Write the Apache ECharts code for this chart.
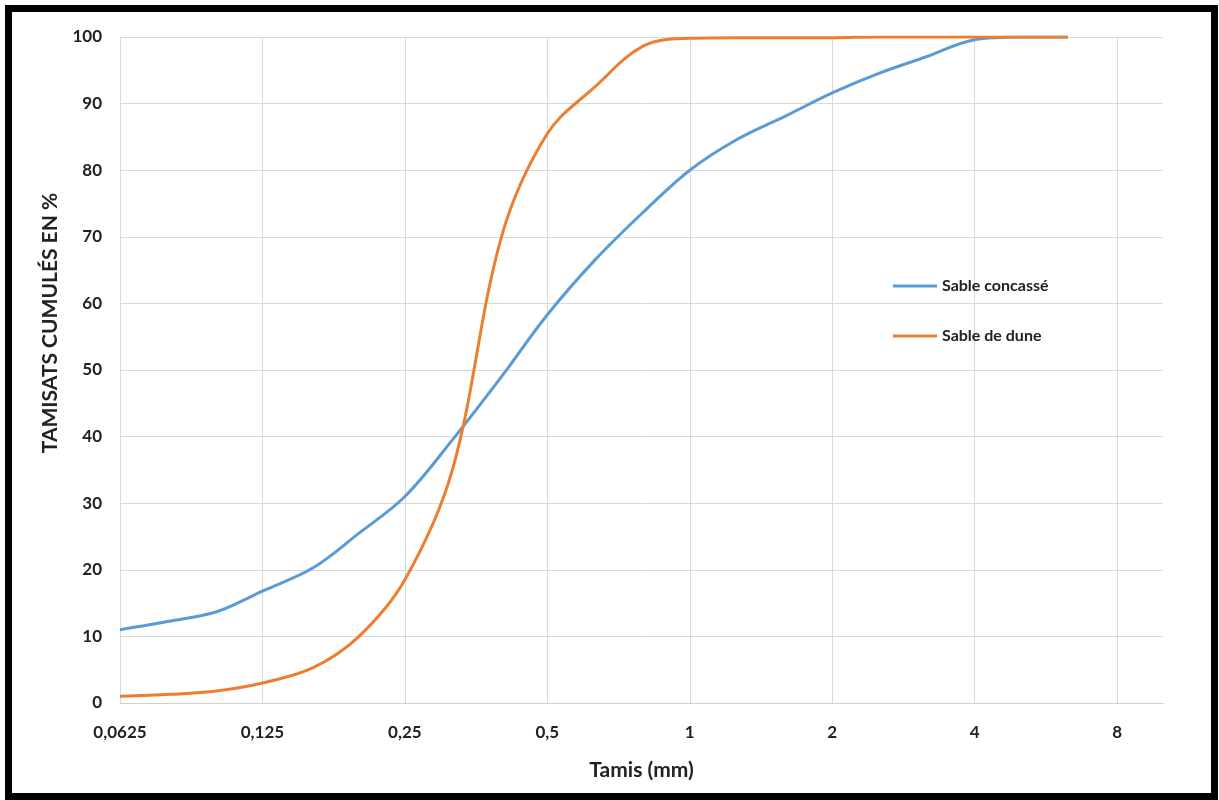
<!DOCTYPE html>
<html>
<head>
<meta charset="utf-8">
<script src="https://cdn.jsdelivr.net/npm/echarts@6/dist/echarts.min.js"></script>
<style>
html,body{margin:0;padding:0;background:#fff;}
#chart{width:1219px;height:800px;}
</style>
</head>
<body>
<div id="chart"></div>
<script>
// Sieve sizes (mm)
const sieves = [0.0625, 0.08, 0.1, 0.125, 0.16, 0.2, 0.25, 0.315, 0.4, 0.5, 0.63, 0.8, 1, 1.25, 1.6, 2, 2.5, 3.15, 4, 5, 6.3];
// Cumulative passing (%)
const sableConcasse = [11.0, 12.3, 13.7, 16.8, 20.3, 25.5, 31.0, 39.5, 49.0, 58.3, 66.5, 73.8, 80.0, 84.5, 88.2, 91.6, 94.5, 97.0, 99.6, 100, 100];
const sableDune     = [1.0, 1.3, 1.8, 3.0, 5.3, 10.0, 18.5, 35.0, 70.0, 85.5, 92.5, 98.7, 99.8, 99.9, 99.9, 99.9, 100, 100, 100, 100, 100];
const xTickLabels = [0.0625, 0.125, 0.25, 0.5, 1, 2, 4, 8];
const seriesNames = ['Sable concassé', 'Sable de dune'];

const FONT = 'Lato, "Liberation Sans", sans-serif';
const TXT = '#222222';

const pairs = (ys) => sieves.map((x, i) => [x, ys[i]]);

const chart = echarts.init(document.getElementById('chart'), null, {renderer: 'canvas'});
chart.setOption({
  animation: false,
  backgroundColor: '#ffffff',
  grid: {left: 120, right: 56, top: 37, bottom: 97, containLabel: false},
  legend: {
    orient: 'vertical',
    left: 888,
    top: 273,
    icon: 'rect',
    itemWidth: 44,
    itemHeight: 3,
    itemGap: 34,
    data: seriesNames,
    textStyle: {fontFamily: FONT, fontWeight: 'bold', fontSize: 16, color: TXT}
  },
  xAxis: {
    type: 'log',
    logBase: 2,
    min: 0.0625,
    max: 10,
    name: 'Tamis (mm)',
    nameLocation: 'middle',
    nameGap: 57,
    nameTextStyle: {fontFamily: FONT, fontWeight: 'bold', fontSize: 21, color: TXT},
    axisLine: {show: true, lineStyle: {color: '#d0d0d0', width: 1}},
    axisTick: {show: false},
    axisLabel: {
      margin: 21,
      fontFamily: FONT, fontWeight: 'bold', fontSize: 17, color: TXT,
      showMaxLabel: false,
      formatter: function (v) {
        const r = Number(v.toPrecision(6));
        if (xTickLabels.indexOf(r) < 0) return '';
        return String(r).replace('.', ',');
      }
    },
    splitLine: {show: true, showMaxLine: false, lineStyle: {color: '#d9d9d9', width: 1}}
  },
  yAxis: {
    type: 'value',
    min: 0,
    max: 100,
    interval: 10,
    axisLine: {show: false},
    axisTick: {show: false},
    axisLabel: {margin: 18, fontFamily: FONT, fontWeight: 'bold', fontSize: 17, color: TXT},
    splitLine: {show: true, lineStyle: {color: '#d9d9d9', width: 1}}
  },
  graphic: [
    {
      type: 'rect',
      shape: {x: 8.5, y: 8.5, width: 1206, height: 788},
      style: {fill: null, stroke: '#000000', lineWidth: 7},
      silent: true,
      z: 100
    },
    {
      type: 'text',
      x: 50,
      y: 323,
      rotation: Math.PI / 2,
      style: {
        text: 'TAMISATS CUMULÉS EN %',
        fontFamily: FONT, fontWeight: 'bold', fontSize: 21,
        fill: TXT,
        textAlign: 'center',
        textVerticalAlign: 'middle'
      }
    }
  ],
  series: [
    {
      name: seriesNames[0],
      type: 'line',
      data: pairs(sableConcasse),
      smooth: 0.35,
      symbol: 'none',
      lineStyle: {color: '#5b9bd5', width: 3},
      itemStyle: {color: '#5b9bd5'},
      z: 2
    },
    {
      name: seriesNames[1],
      type: 'line',
      data: pairs(sableDune),
      smooth: 0.35,
      symbol: 'none',
      lineStyle: {color: '#ed7d31', width: 3},
      itemStyle: {color: '#ed7d31'},
      z: 3
    }
  ]
});
</script>
</body>
</html>
